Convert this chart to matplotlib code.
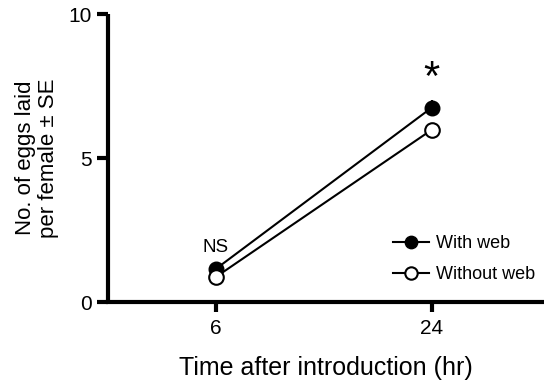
import matplotlib
matplotlib.use("Agg")
import matplotlib.pyplot as plt
from matplotlib.lines import Line2D

plt.rcParams['font.family'] = ['Liberation Sans', 'DejaVu Sans']

times = ['6', '24']
with_web = [1.15, 6.75]
with_web_se = [0.1, 0.25]
without_web = [0.87, 5.98]
without_web_se = [0.08, 0.15]

fig = plt.figure(figsize=(5.44, 3.82), dpi=100)
ax = fig.add_axes([108/544, 1-302/382, 436/544, 288/382])

pos = [1, 2]
ax.errorbar(pos, with_web, yerr=with_web_se, color='black', lw=1.5, marker='o',
            ms=10.5, mfc='black', mec='black', capsize=0, zorder=3)
ax.errorbar(pos, without_web, yerr=without_web_se, color='black', lw=1.5, marker='o',
            ms=10.5, mfc='white', mec='black', mew=1.5, capsize=0, zorder=4)

ax.set_xlim(0.5, 2.52)
ax.set_ylim(0, 10)
ax.set_xticks(pos)
ax.set_xticklabels(times)
ax.set_yticks([0, 5, 10])
for s in ['top', 'right']:
    ax.spines[s].set_visible(False)
ax.spines['left'].set_linewidth(3)
ax.spines['bottom'].set_linewidth(3)
ax.spines['left'].set_capstyle('butt')
ax.tick_params(axis='both', width=3, length=8, labelsize=15, direction='out')
ax.tick_params(axis='x', length=7, pad=5)

ax.set_xlabel('Time after introduction (hr)', fontsize=18, labelpad=13)
ax.set_ylabel('No. of eggs laid\nper female ± SE', fontsize=16, labelpad=7, linespacing=1.12)

ax.text(1, 1.6, 'NS', ha='center', va='bottom', fontsize=13.5)
ax.text(2, 7.05, '*', ha='center', va='bottom', fontsize=30)

handles = [
    Line2D([], [], color='black', lw=1.5, marker='o', ms=10.5, mfc='black', mec='black'),
    Line2D([], [], color='black', lw=1.5, marker='o', ms=10.5, mfc='white', mec='black', mew=1.5),
]
ax.legend(handles, ['With web', 'Without web'], loc='lower right', bbox_to_anchor=(1.0, 0.035),
          frameon=False, fontsize=13, handlelength=2.0, markerscale=0.85,
          handletextpad=0.4, labelspacing=0.75, borderaxespad=0.1)

fig.savefig('out.png', dpi=100)
